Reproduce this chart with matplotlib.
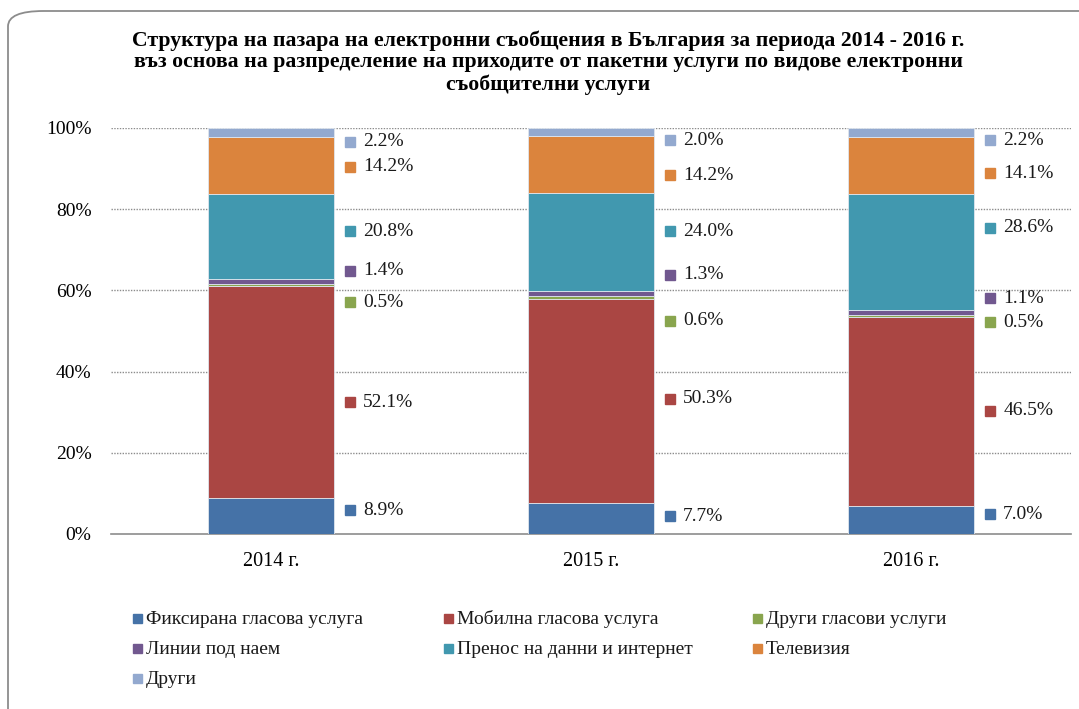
import numpy as np
import matplotlib
matplotlib.use("Agg")
import matplotlib.pyplot as plt
from matplotlib.patches import FancyBboxPatch, Rectangle

plt.rcParams['font.family'] = ['Liberation Serif', 'DejaVu Serif']

# Data
years = ["2014 г.", "2015 г.", "2016 г."]
series = ["Фиксирана гласова услуга", "Мобилна гласова услуга", "Други гласови услуги",
          "Линии под наем", "Пренос на данни и интернет", "Телевизия", "Други"]
fixed   = [8.9, 7.7, 7.0]
mobile  = [52.1, 50.3, 46.5]
voice   = [0.5, 0.6, 0.5]
leased  = [1.4, 1.3, 1.1]
data    = [20.8, 24.0, 28.6]
tv      = [14.2, 14.2, 14.1]
other   = [2.2, 2.0, 2.2]

colors = ["#4572A7", "#AA4643", "#89A54E", "#71588F", "#4198AF", "#DB843D", "#93A9CF"]

# label nudges (in % units) so labels don't collide
nudge = [[1.45, 0.55, 1.4],
         [-2.45, 0.45, 0.05],
         [-4.15, -5.8, -1.55],
         [2.6, 4.55, 3.55],
         [1.3, 2.7, 6.0],
         [-0.4, -2.6, -1.85],
         [-2.4, -2.1, -1.9]]

vals = np.array([fixed, mobile, voice, leased, data, tv, other])

W, H = 1079, 709
fig = plt.figure(figsize=(W/100, H/100), dpi=100)
ax = fig.add_axes([111/W, 1-534/H, 960/W, 406/H])

# rounded frame (right and bottom edges fall outside the picture)
frame = FancyBboxPatch((8/W, -0.1), 1.2, 1.1 - 11/H, transform=fig.transFigure,
                       boxstyle="round,pad=0,rounding_size=0.033", fc="none",
                       ec="#8c8c8c", lw=1.3, mutation_aspect=H/W)
fig.patches.append(frame)

x = np.arange(len(years))
w = 0.394
bottom = np.zeros(len(years))
for k in range(len(series)):
    ax.bar(x, vals[k], w, bottom=bottom, color=colors[k], edgecolor="#dfe6ee",
           linewidth=0.6, label=series[k], zorder=3)
    centers = bottom + vals[k] / 2
    for i in range(len(years)):
        y = centers[i] + nudge[k][i]
        ax.plot(x[i] + 0.247, y, marker="s", ms=7, color=colors[k], ls="none",
                clip_on=False, zorder=4)
        ax.text(x[i] + 0.288, y, "%.1f%%" % vals[k][i], va="center", ha="left",
                fontsize=14, color="#1a1a1a")
    bottom += vals[k]

ax.set_xlim(-0.5, 2.5)
ax.set_ylim(0, 100)
ax.set_yticks(np.arange(0, 101, 20))
ax.set_yticklabels(["%d%%" % v for v in range(0, 101, 20)], fontsize=14)
ax.set_xticks(x)
ax.set_xticklabels(years, fontsize=14.5)
ax.tick_params(length=0, pad=14, axis="y")
ax.tick_params(length=0, pad=13, axis="x")
for g in range(20, 101, 20):
    ax.axhline(g, color="#8c8c8c", ls=(0, (1, 1)), lw=1.0, zorder=1)
for s in ["top", "right", "left"]:
    ax.spines[s].set_visible(False)
ax.spines["bottom"].set_color("#8c8c8c")
ax.spines["bottom"].set_linewidth(1.2)

fig.text(0.508, 1-62.5/H,
         "Структура на пазара на електронни съобщения в България за периода 2014 - 2016 г.\n"
         "въз основа на разпределение на приходите от пакетни услуги по видове електронни\n"
         "съобщителни услуги",
         ha="center", va="center", fontsize=15.7, fontweight="bold", linespacing=1.1)

# legend: rows filled left to right, three columns like the original
col_x = [137, 448, 757]
row_y = [618, 648, 678]
for n, name in enumerate(series):
    cx = col_x[n % 3]
    cy = row_y[n // 3]
    fig.patches.append(Rectangle(((cx - 4.5)/W, 1 - (cy + 4.5)/H), 9/W, 9/H,
                                 transform=fig.transFigure, color=colors[n]))
    fig.text((cx + 9)/W, 1 - (cy + 6)/H, name, ha="left", va="baseline",
             fontsize=14, color="#1a1a1a")

fig.savefig("out.png", dpi=100)
